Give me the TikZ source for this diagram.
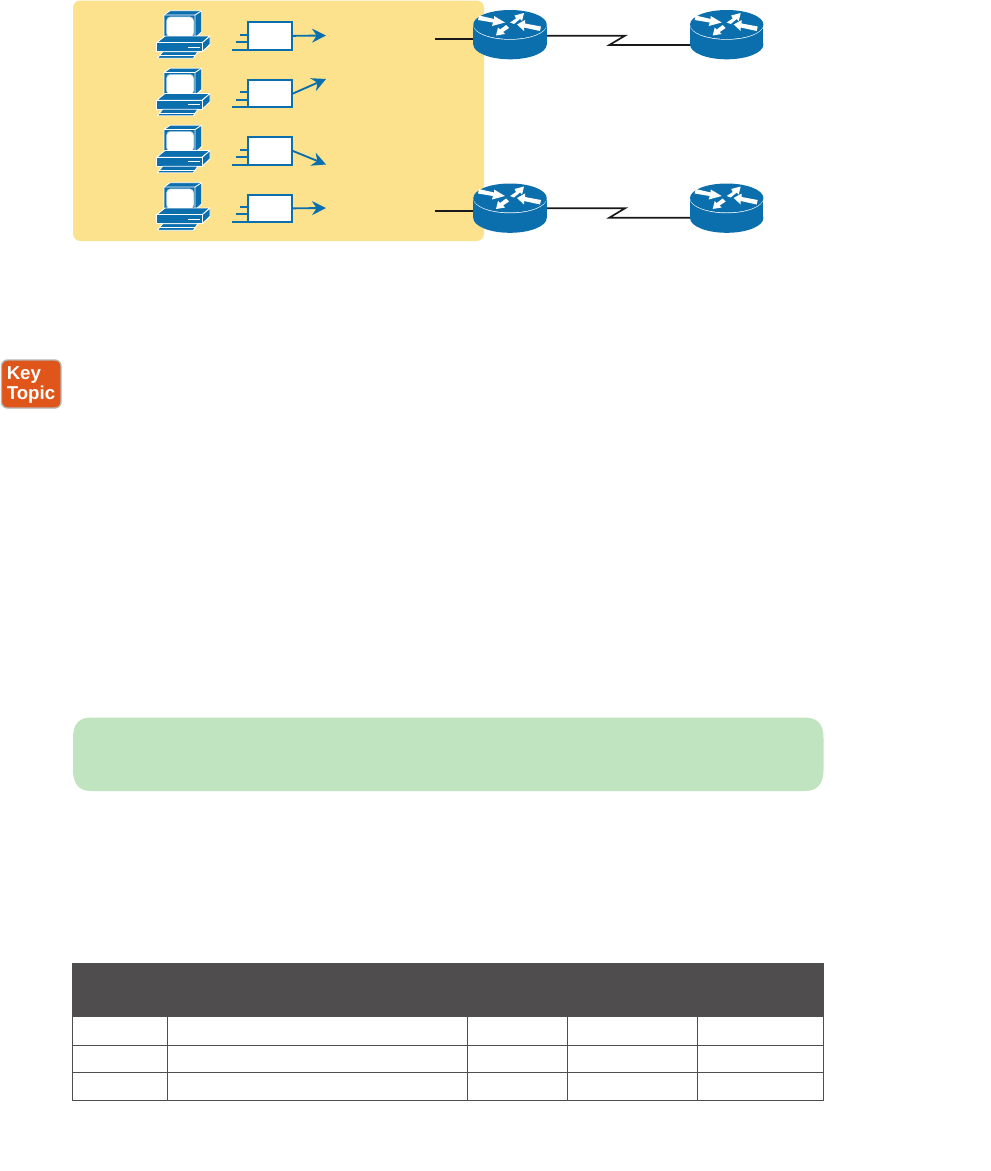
\documentclass[tikz,border=0pt]{standalone}
\usepackage{fontspec}
\setmainfont{Liberation Sans}
\usetikzlibrary{arrows.meta}
\definecolor{ciscoblue}{HTML}{0B6FAE}
\definecolor{lanyellow}{HTML}{FCE28C}
\definecolor{notegreen}{HTML}{C0E4C0}
\definecolor{headgray}{HTML}{4F4D4E}
\definecolor{keyorange}{HTML}{E0561A}
\definecolor{keygray}{HTML}{B5B5B5}
\tikzset{
  x=0.75pt,y=-0.75pt,
  panel/.style={rounded corners=5.5pt},
  bluefill/.style={fill=ciscoblue,draw=white,line width=0.65pt,line join=round},
  cable/.style={draw=black!90,line width=1.25pt},
  serial/.style={draw=black!90,line width=1.25pt,line join=miter},
  frameline/.style={draw=ciscoblue,line width=1.4pt},
  framebox/.style={draw=ciscoblue,fill=white,line width=1.4pt},
  flow/.style={draw=ciscoblue,line width=1.4pt,-{Stealth[length=10.5pt,width=10.5pt,inset=3.5pt]}},
  tableline/.style={draw=headgray,line width=0.75pt},
  routerarrow/.style={fill=white,draw=none},
  pics/pc/.style={code={
    \path[bluefill] (164,15) -- (170,10.7) -- (201.7,10.7) -- (201.7,32) -- (195,38) -- (164,38) -- cycle;
    \draw[white,line width=0.65pt] (164,15) -- (195,15) -- (201.7,10.7) (195,15) -- (195,38);
    \path[fill=white,draw=ciscoblue!45!white,line width=0.4pt,rounded corners=3pt] (166.5,16.8) rectangle (193.8,37);
    \path[bluefill] (156.7,42.7) -- (165,36) -- (210,36) -- (202.3,42.7) -- cycle;
    \path[bluefill] (202.3,42.7) -- (210,36) -- (210,44.3) -- (202.3,51.7) -- cycle;
    \path[bluefill] (156.7,42.7) rectangle (202.3,51.7);
    \draw[white,line width=0.75pt] (188,47.3) -- (200,47.3);
    \path[bluefill] (157.3,58.3) -- (162.7,51.7) -- (198,51.7) -- (193.3,58.3) -- cycle;
    \draw[white,line width=0.55pt] (159,55.5) -- (195,55.5);
  }},
  pics/routericon/.style={code={
    % origin = centre of the top ellipse
    \fill[ciscoblue] (0,20) ellipse[x radius=36.7,y radius=14.8];
    \fill[ciscoblue] (-36.7,0) rectangle (36.7,20);
    \fill[white] (0,0.7) ellipse[x radius=36.7,y radius=14.5];
    \fill[ciscoblue] (0,0) ellipse[x radius=36.7,y radius=14.5];
    \fill[routerarrow] (-31,-9) -- (-16,-5.5) -- (-16,-8.5) -- (-5,-2) -- (-18,1.5) -- (-17,-2) -- (-32,-4.5) -- cycle;
    \fill[routerarrow] (0,-2) -- (6,-6) -- (4.5,-9) -- (14,-11.5) -- (12,-3.5) -- (10,-5.5) -- (4,-0.5) -- cycle;
    \fill[routerarrow] (7,0) -- (15,-4.5) -- (15,-1) -- (31,2) -- (30,6.5) -- (14,3) -- (14,6.5) -- cycle;
    \fill[routerarrow] (-14,11) -- (-12,3) -- (-10,5) -- (-4,0.5) -- (-1,3.5) -- (-7,7.5) -- (-5,9.5) -- cycle;
  }},
}
\begin{document}
\begin{tikzpicture}
\useasboundingbox (0,0) rectangle (990,1171);
\fill[white] (0,0) rectangle (990,1171);

% LAN panel
\path[fill=lanyellow,panel] (73,0.5) rectangle (484,241);

% PCs
\foreach \n/\y in {a/0,b/57.5,c/114.5,d/172}{
  \pic (pc\n) at (0,\y) {pc};
}

% frames: top, bottom
\foreach \n/\t/\b in {a/21.7/50,b/80/107.3,c/136.7/165,d/195/221.7}{
  \draw[frameline] (240,\b-15) -- (247,\b-15) (236,\b-7.7) -- (247,\b-7.7) (232,\b) -- (247,\b);
  \node[framebox,inner sep=0pt,minimum width=33pt,minimum height=(\b-\t)*0.75pt] (fr\n) at (269.7,{(\t+\b)/2}) {};
}
\coordinate (ta) at (326,35.5);
\coordinate (tb) at (326,79);
\coordinate (tc) at (326,164.5);
\coordinate (td) at (326,208);
\draw[flow] (fra.east) -- (ta);
\draw[flow] (frb.east) -- (tb);
\draw[flow] (frc.east) -- (tc);
\draw[flow] (frd.east) -- (td);

% routers
\coordinate (r1) at (510,24.5);
\coordinate (r2) at (726.7,24.5);
\coordinate (r3) at (510,198);
\coordinate (r4) at (726.7,198);
\coordinate (lan1) at (435,39);
\coordinate (lan2) at (435,210.7);
\draw[cable] (lan1) -- ++(39,0);
\draw[cable] (lan2) -- ++(39,0);
\draw[serial] (546,35.7) -- (625,35.7) -- (609.3,45) -- (691,45);
\draw[serial] (546,208.3) -- (625,208.3) -- (609.3,217.7) -- (691,217.7);
\pic at (r1) {routericon};
\pic at (r2) {routericon};
\pic at (r3) {routericon};
\pic at (r4) {routericon};

% Key Topic
\path[fill=keyorange,draw=keygray,line width=1pt,rounded corners=4.5pt] (1.5,360) rectangle (61,408);
\node[white,font=\bfseries\fontsize{14}{14.4}\selectfont,align=left,inner sep=0pt,anchor=west] (key) at (6.5,385) {Key\\Topic};

% note
\path[fill=notegreen] (91,717.5) -- (805,717.5) .. controls (817,717.5) and (823.5,724) .. (823.5,738) -- (823.5,770) .. controls (823.5,784) and (817,791) .. (805,791) -- (91,791) .. controls (79,791) and (73,784) .. (73,770) -- (73,738) .. controls (73,724) and (79,717.5) .. (91,717.5) -- cycle;

% table
\fill[headgray] (72,963) rectangle (824,1017);
\draw[tableline] (72.5,1017) -- (72.5,1100.5) -- (823.5,1100.5) -- (823.5,1017);
\draw[tableline] (72,1045.5) -- (824,1045.5) (72,1072.5) -- (824,1072.5);
\foreach \x in {167,467.5,567,697.5}{\draw[tableline] (\x,1017) -- (\x,1100.5);}
\end{tikzpicture}
\end{document}
